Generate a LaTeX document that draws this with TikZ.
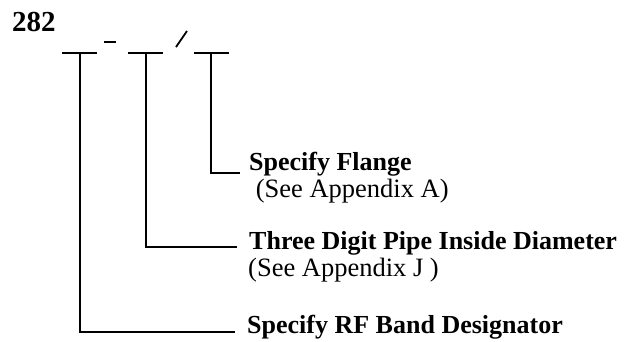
\documentclass[tikz,border=0pt]{standalone}
\usepackage{fontspec}
\setmainfont{Liberation Serif}
\begin{document}
\begin{tikzpicture}[x=1pt,y=-1pt,
  ln/.style={line width=1.8pt},
  lbl/.style={anchor=base west,inner sep=0pt,font=\fontsize{26}{30}\selectfont\bfseries},
  sub/.style={anchor=base west,inner sep=0pt,font=\fontsize{26.5}{30}\selectfont}]
\useasboundingbox (0,0) rectangle (634,341);
\node[anchor=base west,inner sep=0pt,font=\fontsize{29}{32}\selectfont\bfseries] (num) at (12,31) {282};
% blanks
\coordinate (b1l) at (62,53); \coordinate (b1r) at (97,53); \coordinate (b1m) at (80,53);
\coordinate (b2l) at (128,53); \coordinate (b2r) at (163,53); \coordinate (b2m) at (146,53);
\coordinate (b3l) at (194,53); \coordinate (b3r) at (229,53); \coordinate (b3m) at (211,53);
\draw[ln] (b1l) -- (b1r);
\draw[ln] (b2l) -- (b2r);
\draw[ln] (b3l) -- (b3r);
\coordinate (d1) at (104,42); \coordinate (d2) at (116,42);
\draw[ln] (d1) -- (d2);
\coordinate (s1) at (176,47); \coordinate (s2) at (187,31);
\draw[ln] (s1) -- (s2);
% labels
\node[lbl] (flange) at (249,170) {Specify Flange};
\node[sub] (appA) at (249,197) {\ (See Appendix A)};
\node[lbl] (pipe) at (249,249) {Three Digit Pipe Inside Diameter};
\node[sub] (appJ) at (248,276) {(See Appendix J )};
\node[lbl] (band) at (247,333) {Specify RF Band Designator};
% connectors
\coordinate (e3) at (240,173);
\coordinate (e2) at (237,247);
\coordinate (e1) at (235,332);
\draw[ln] (b3m) |- (e3);
\draw[ln] (b2m) |- (e2);
\draw[ln] (b1m) |- (e1);
\end{tikzpicture}
\end{document}
